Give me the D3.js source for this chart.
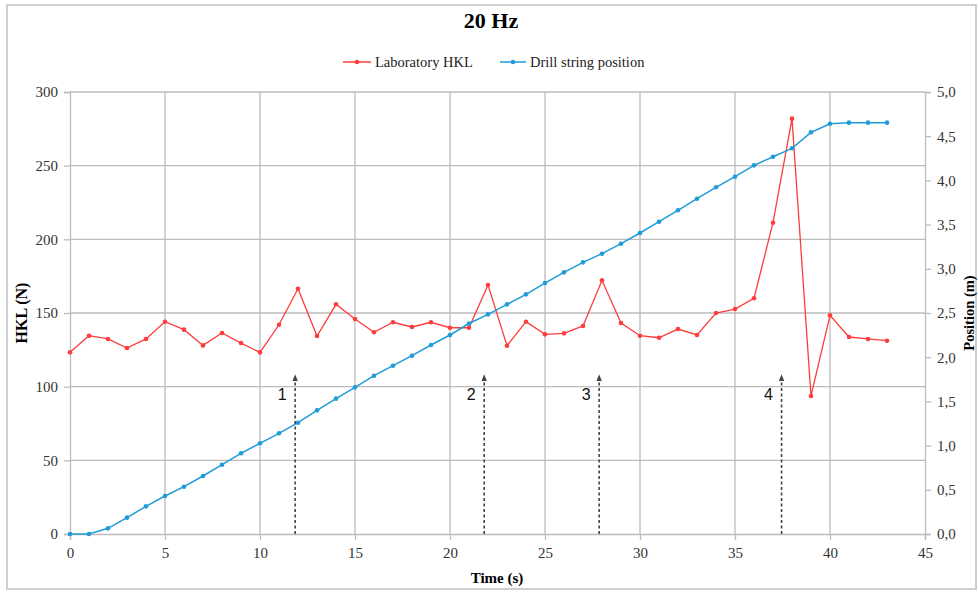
<!DOCTYPE html>
<html>
<head>
<meta charset="utf-8">
<script src="https://cdn.jsdelivr.net/npm/d3@7"></script>
<style>
  body { margin: 0; background: #fff; }
  svg { display: block; }
</style>
</head>
<body>
<svg width="978" height="592"></svg>
<script>
// data
const times = d3.range(0, 44);
const hkl = [123.3, 134.6, 132.4, 126.2, 132.4, 144.1, 138.7, 128.0, 136.4, 129.6,
    123.3, 142.0, 166.5, 134.4, 155.9, 145.9, 136.9, 143.7, 140.5, 143.7,
    140.0, 140.0, 169.0, 127.8, 144.1, 135.5, 136.2, 141.2, 172.2, 143.2,
    134.6, 133.2, 139.1, 135.1, 150.0, 152.7, 160.0, 211.3, 281.9, 93.7,
    148.4, 133.7, 132.4, 131.2];
const position = [0, 0, 0.064, 0.185, 0.313, 0.43, 0.535, 0.656, 0.784, 0.913,
    1.026, 1.139, 1.259, 1.399, 1.531, 1.659, 1.791, 1.904, 2.017, 2.138,
    2.251, 2.381, 2.485, 2.598, 2.711, 2.839, 2.96, 3.073, 3.171, 3.284,
    3.405, 3.533, 3.662, 3.793, 3.922, 4.042, 4.17, 4.268, 4.363, 4.544,
    4.641, 4.653, 4.653, 4.653];
const markerTimes = [11.85, 21.8, 27.85, 37.45];
const markerLabels = ['1', '2', '3', '4'];
const markerTop = 108;
const seriesNames = ['Laboratory HKL', 'Drill string position'];
const seriesColors = ['#ff3c3c', '#1f9bd7'];

const svg = d3.select('svg');
const margin = {left: 70, right: 53, top: 92, bottom: 58};
const width = 978, height = 592;

const x = d3.scaleLinear().domain([0, 45]).range([margin.left, width - margin.right]);
const yL = d3.scaleLinear().domain([0, 300]).range([height - margin.bottom, margin.top]);
const yR = d3.scaleLinear().domain([0, 5]).range([height - margin.bottom, margin.top]);

const serif = '"Liberation Serif", "Times New Roman", serif';
const gridColor = '#bcbcbc';

// outer border
svg.append('rect')
    .attr('x', 7).attr('y', 5)
    .attr('width', width - 9).attr('height', height - 8)
    .attr('fill', 'none').attr('stroke', '#cfcfcf').attr('stroke-width', 2);

// grid
svg.append('g').selectAll('line')
    .data(d3.range(50, 301, 50))
    .join('line')
    .attr('x1', margin.left).attr('x2', width - margin.right)
    .attr('y1', d => yL(d)).attr('y2', d => yL(d))
    .attr('stroke', gridColor).attr('stroke-width', 1.3);

svg.append('g').selectAll('line')
    .data(d3.range(5, 41, 5))
    .join('line')
    .attr('x1', d => x(d)).attr('x2', d => x(d))
    .attr('y1', margin.top).attr('y2', height - margin.bottom)
    .attr('stroke', gridColor).attr('stroke-width', 1.3);

// axes
const xAxis = svg.append('g')
    .attr('transform', `translate(0,${height - margin.bottom})`)
    .call(d3.axisBottom(x).tickValues(d3.range(0, 46, 5)).tickSize(6).tickPadding(7));
const yAxisL = svg.append('g')
    .attr('transform', `translate(${margin.left},0)`)
    .call(d3.axisLeft(yL).tickValues(d3.range(0, 301, 50)).tickSize(6).tickPadding(6));
const yAxisR = svg.append('g')
    .attr('transform', `translate(${width - margin.right},0)`)
    .call(d3.axisRight(yR).tickValues(d3.range(0, 5.01, 0.5)).tickSize(6).tickPadding(6)
        .tickFormat(d => d3.format('.1f')(d).replace('.', ',')));

[xAxis, yAxisL, yAxisR].forEach(a => {
    a.select('.domain').attr('stroke', gridColor).attr('stroke-width', 1.3);
    a.selectAll('.tick line').attr('stroke', gridColor).attr('stroke-width', 1.3);
    a.selectAll('.tick text')
        .attr('fill', '#333')
        .style('font-family', serif)
        .style('font-size', '15px');
});

// lines
const lineL = d3.line().x((d, i) => x(times[i])).y(d => yL(d));
const lineR = d3.line().x((d, i) => x(times[i])).y(d => yR(d));

svg.append('path').datum(hkl)
    .attr('d', lineL).attr('fill', 'none')
    .attr('stroke', seriesColors[0]).attr('stroke-width', 1.3);
svg.append('g').selectAll('circle')
    .data(hkl).join('circle')
    .attr('cx', (d, i) => x(times[i])).attr('cy', d => yL(d))
    .attr('r', 2.3).attr('fill', seriesColors[0]);

svg.append('path').datum(position)
    .attr('d', lineR).attr('fill', 'none')
    .attr('stroke', seriesColors[1]).attr('stroke-width', 1.5);
svg.append('g').selectAll('circle')
    .data(position).join('circle')
    .attr('cx', (d, i) => x(times[i])).attr('cy', d => yR(d))
    .attr('r', 2.3).attr('fill', seriesColors[1]);

// dashed arrows
svg.append('defs').append('marker')
    .attr('id', 'arrow')
    .attr('viewBox', '0 0 10 10')
    .attr('refX', 5).attr('refY', 5)
    .attr('markerWidth', 4.5).attr('markerHeight', 4.5)
    .attr('orient', 'auto')
    .append('path').attr('d', 'M0,1 L10,5 L0,9 Z').attr('fill', '#444');

const arrows = svg.append('g');
markerTimes.forEach((t, i) => {
    arrows.append('line')
        .attr('x1', x(t)).attr('x2', x(t))
        .attr('y1', yL(0)).attr('y2', yL(markerTop) + 3)
        .attr('stroke', '#444').attr('stroke-width', 1.6)
        .attr('stroke-dasharray', '3,2.5')
        .attr('marker-end', 'url(#arrow)');
    arrows.append('text')
        .attr('x', x(t) - 13).attr('y', yL(markerTop) + 25)
        .attr('text-anchor', 'middle')
        .style('font-family', '"Liberation Sans", Arial, sans-serif')
        .style('font-size', '16px')
        .attr('fill', '#111')
        .text(markerLabels[i]);
});

// title
svg.append('text')
    .attr('x', 491).attr('y', 28)
    .attr('text-anchor', 'middle')
    .style('font-family', serif).style('font-weight', 'bold').style('font-size', '22px')
    .text('20 Hz');

// legend
const legendItems = [{x: 343, w: 28}, {x: 500, w: 26}];
legendItems.forEach((it, i) => {
    const g = svg.append('g');
    g.append('line')
        .attr('x1', it.x).attr('x2', it.x + it.w)
        .attr('y1', 62).attr('y2', 62)
        .attr('stroke', seriesColors[i]).attr('stroke-width', 1.5);
    g.append('circle')
        .attr('cx', it.x + it.w / 2).attr('cy', 62).attr('r', 2.3)
        .attr('fill', seriesColors[i]);
    g.append('text')
        .attr('x', it.x + it.w + 4).attr('y', 67)
        .style('font-family', serif).style('font-size', '14.5px')
        .attr('fill', '#222')
        .text(seriesNames[i]);
});

// axis titles
svg.append('text')
    .attr('x', 497).attr('y', 583)
    .attr('text-anchor', 'middle')
    .style('font-family', serif).style('font-weight', 'bold').style('font-size', '15px')
    .text('Time (s)');
svg.append('text')
    .attr('transform', `translate(27,${yL(150)}) rotate(-90)`)
    .attr('text-anchor', 'middle')
    .style('font-family', serif).style('font-weight', 'bold').style('font-size', '16px')
    .text('HKL (N)');
svg.append('text')
    .attr('transform', `translate(974,${yL(150)}) rotate(-90)`)
    .attr('text-anchor', 'middle')
    .style('font-family', serif).style('font-weight', 'bold').style('font-size', '14.5px')
    .text('Position (m)');
</script>
</body>
</html>
